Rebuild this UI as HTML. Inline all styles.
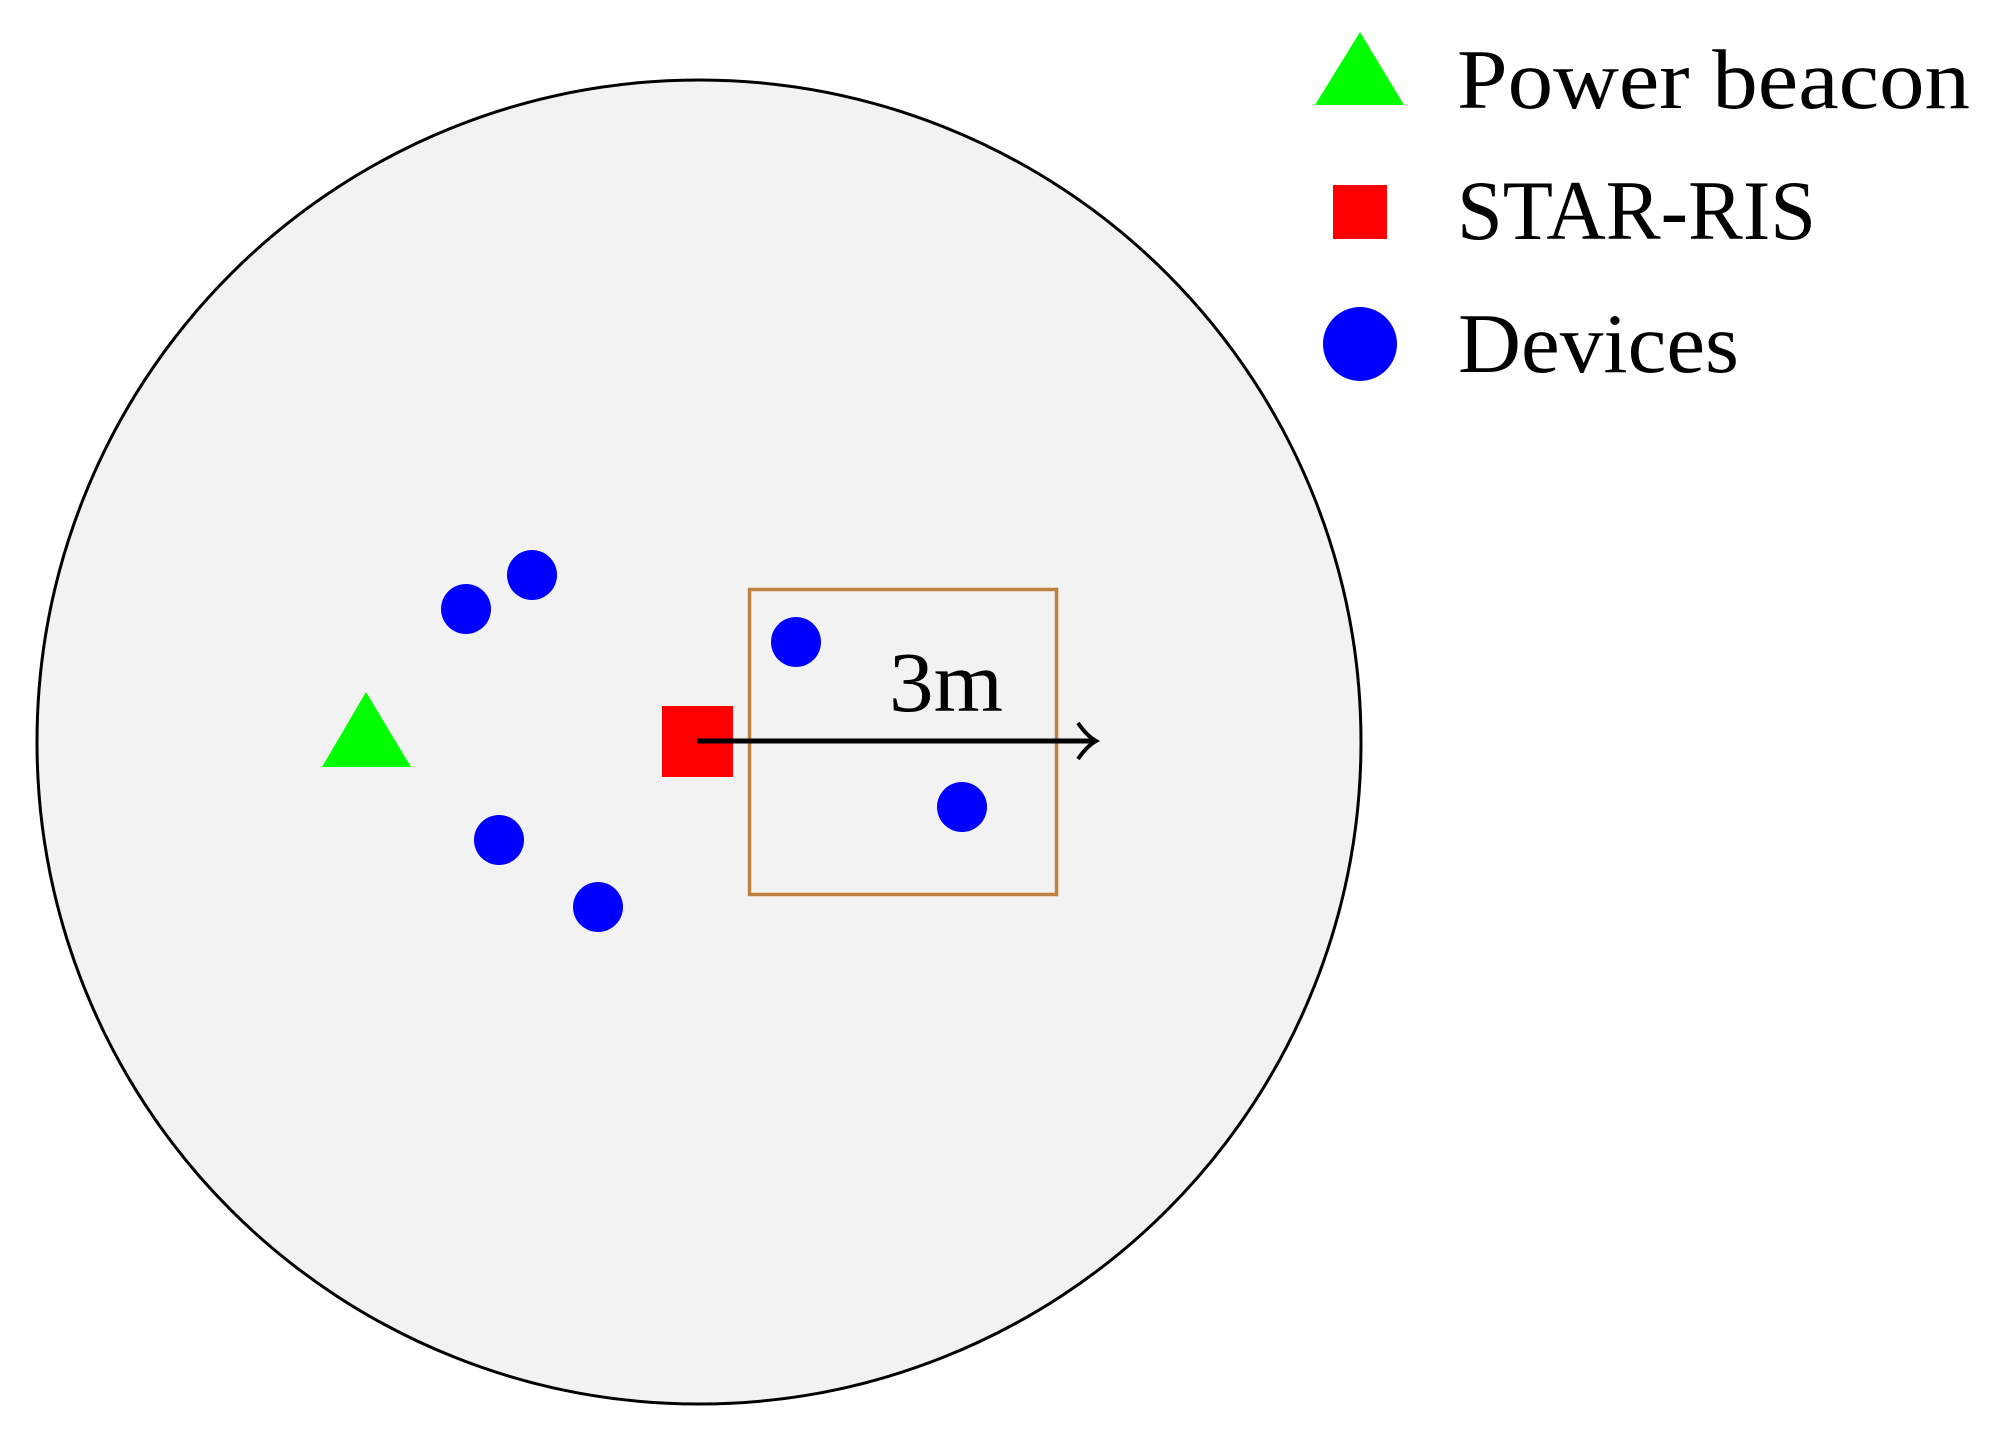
<!DOCTYPE html>
<html><head><meta charset="utf-8"><style>html,body{margin:0;padding:0;background:#fff}svg{display:block}</style></head>
<body>
<svg width="2004" height="1433" viewBox="0 0 2004 1433" xmlns="http://www.w3.org/2000/svg" font-family="'Liberation Serif', serif">
<circle cx="699" cy="742" r="662" fill="#f2f2f2" stroke="#000" stroke-width="3"/>
<rect x="749.5" y="589.5" width="307" height="305" fill="none" stroke="#c08040" stroke-width="3.5"/>
<polygon points="366,692 411,767 322,767" fill="#00ff00"/>
<rect x="662" y="706" width="71" height="71" fill="#ff0000"/>
<g fill="#0000ff">
<circle cx="532" cy="575" r="25"/>
<circle cx="466" cy="609" r="25"/>
<circle cx="796" cy="642" r="25"/>
<circle cx="962" cy="807" r="25"/>
<circle cx="499" cy="840" r="25"/>
<circle cx="598" cy="907" r="25"/>
</g>
<line x1="697" y1="741" x2="1093" y2="741" stroke="#000" stroke-width="5"/>
<path d="M1078,723 Q1087,736 1096,741 Q1087,746 1078,759" fill="none" stroke="#000" stroke-width="4"/>
<text x="889" y="711" font-size="86" textLength="114" lengthAdjust="spacingAndGlyphs">3m</text>
<polygon points="1360,32 1404,105 1315,105" fill="#00ff00"/>
<rect x="1333" y="185" width="54" height="54" fill="#ff0000"/>
<circle cx="1360" cy="344" r="37" fill="#0000ff"/>
<text x="1457" y="108" font-size="85" textLength="513" lengthAdjust="spacingAndGlyphs">Power beacon</text>
<text x="1457" y="239" font-size="85" textLength="359" lengthAdjust="spacingAndGlyphs">STAR-RIS</text>
<text x="1458" y="372" font-size="85" textLength="281" lengthAdjust="spacingAndGlyphs">Devices</text>
</svg>
</body></html>
